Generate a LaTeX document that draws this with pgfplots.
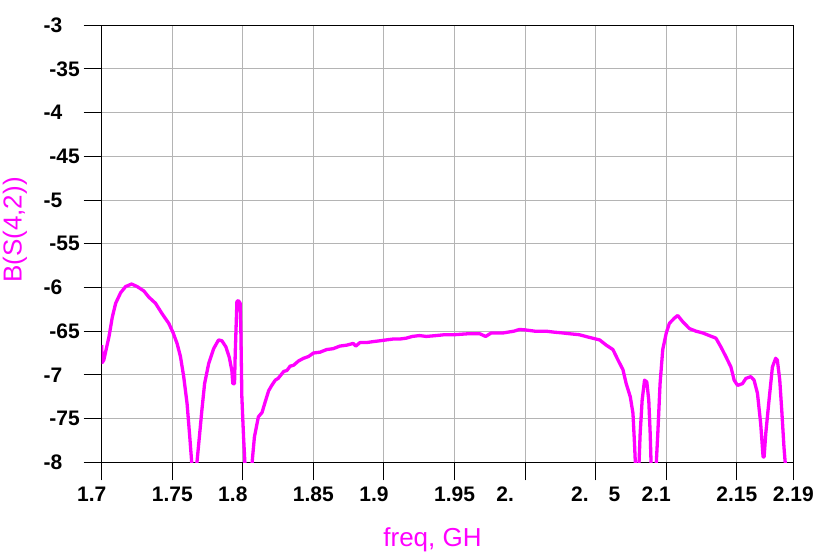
\documentclass[border=0pt]{standalone}
\usepackage{pgfplots}
\pgfplotsset{compat=1.18}
\usepackage{fontspec}
\setmainfont{Liberation Sans}
\definecolor{mag}{RGB}{255,0,255}
\definecolor{gridgray}{RGB}{180,180,180}
\newcommand\Z{\hspace{20pt}\null}
\newcommand\Y{\hspace{17.5pt}\null}
\begin{document}
\begin{tikzpicture}[x=1pt,y=1pt]
\path[use as bounding box] (0,0) rectangle (816,557);
\begin{axis}[
  at={(101.7pt,94.7pt)}, anchor=south west,
  scale only axis, width=691.6pt, height=437pt,
  xmin=1.7, xmax=2.19, ymin=-80, ymax=-30,
  xtick={1.7,1.75,1.8,1.85,1.9,1.95,2.0,2.05,2.1,2.15,2.19},
  xticklabels={1.7\Z,1.75,1.8\Z,1.85,1.9\Z,1.95,2.\Z\Z,2.\Z5,2.1\Z,2.15,2.19},
  ytick={-80,-75,-70,-65,-60,-55,-50,-45,-40,-35,-30},
  yticklabels={-8\Y,-75,-7\Y,-65,-6\Y,-55,-5\Y,-45,-4\Y,-35,-3\Y},
  grid=major, major grid style={gridgray, line width=1pt},
  tick align=outside, major tick length=18pt, tick pos=left,
  tick style={black, line width=1pt},
  axis line style={black, line width=1.3pt},
  ticklabel style={font=\fontsize{21}{21}\selectfont\bfseries, inner sep=0pt},
  xticklabel style={anchor=base, yshift=-21.4pt},
  yticklabel style={anchor=east, xshift=-3.7pt},
  ylabel={B(S(4,2))},
  ylabel style={at={(axis description cs:-0.1157,0.5316)}, anchor=base, font=\fontsize{26}{26}\selectfont, text=mag, inner sep=0pt},
  xlabel={freq, GH},
  xlabel style={at={(axis description cs:0.4783,-0.1931)}, anchor=base, font=\fontsize{26}{26}\selectfont, text=mag, inner sep=0pt},
]
\addplot[mag, line width=3.3pt, line join=round, mark=none] coordinates {
(1.7000,-66.6) (1.7003,-68.6) (1.7015,-68.3) (1.7030,-67.2) (1.7052,-65.6)
(1.7075,-63.4) (1.7099,-61.8) (1.7134,-60.6) (1.7169,-59.9) (1.7212,-59.6)
(1.7252,-59.9) (1.7299,-60.4) (1.7334,-61.1) (1.7381,-61.8) (1.7428,-63.0)
(1.7475,-64.1) (1.7504,-65.1) (1.7534,-66.4) (1.7558,-67.9) (1.7581,-70.2)
(1.7605,-73.3) (1.7624,-77.1) (1.7640,-80.5) (1.7655,-84.0) (1.7672,-80.5)
(1.7692,-77.1) (1.7710,-74.0) (1.7729,-71.0) (1.7758,-68.7) (1.7793,-67.0)
(1.7828,-66.0) (1.7852,-66.1) (1.7880,-66.8) (1.7904,-68.0) (1.7922,-69.5)
(1.7929,-71.0) (1.7941,-71.0) (1.7946,-67.6) (1.7958,-61.6) (1.7969,-61.5)
(1.7981,-61.8) (1.7986,-65.0) (1.7993,-72.5) (1.8005,-77.1) (1.8016,-80.5)
(1.8040,-85.0) (1.8063,-80.5) (1.8082,-77.1) (1.8110,-74.8) (1.8136,-74.3)
(1.8160,-73.0) (1.8183,-71.8) (1.8205,-71.2) (1.8230,-70.6) (1.8250,-70.4)
(1.8270,-70.0) (1.8290,-69.6) (1.8312,-69.5) (1.8335,-69.0) (1.8359,-68.9)
(1.8395,-68.4) (1.8430,-68.1) (1.8465,-67.9) (1.8500,-67.5) (1.8547,-67.4)
(1.8594,-67.1) (1.8640,-67.0) (1.8688,-66.7) (1.8735,-66.6) (1.8782,-66.4)
(1.8800,-66.7) (1.8830,-66.3) (1.8876,-66.3) (1.8920,-66.2) (1.8969,-66.1)
(1.9015,-66.0) (1.9063,-65.9) (1.9110,-65.9) (1.9157,-65.8) (1.9200,-65.6)
(1.9251,-65.5) (1.9300,-65.6) (1.9369,-65.5) (1.9430,-65.4) (1.9500,-65.4)
(1.9590,-65.3) (1.9680,-65.3) (1.9720,-65.6) (1.9760,-65.2) (1.9844,-65.2)
(1.9920,-65.0) (1.9960,-64.8) (2.0000,-64.85) (2.0070,-65.0) (2.0149,-65.0)
(2.0200,-65.1) (2.0266,-65.2) (2.0320,-65.3) (2.0383,-65.4) (2.0453,-65.7)
(2.0528,-66.0) (2.0575,-66.6) (2.0622,-67.1) (2.0658,-68.3) (2.0693,-69.4)
(2.0716,-71.0) (2.0745,-72.5) (2.0764,-74.4) (2.0775,-77.9) (2.0782,-80.5)
(2.0794,-83.0) (2.0806,-80.5) (2.0815,-76.7) (2.0829,-72.9) (2.0846,-70.6)
(2.0862,-70.8) (2.0876,-72.9) (2.0886,-76.7) (2.0893,-80.5) (2.0910,-84.0)
(2.0928,-80.5) (2.0940,-76.7) (2.0956,-71.0) (2.0975,-67.1) (2.1000,-65.2)
(2.1022,-64.1) (2.1058,-63.5) (2.1081,-63.2) (2.1116,-63.9) (2.1164,-64.7)
(2.1211,-65.0) (2.1258,-65.2) (2.1305,-65.5) (2.1352,-65.8) (2.1387,-66.8)
(2.1422,-67.9) (2.1458,-69.1) (2.1481,-70.6) (2.1505,-71.2) (2.1540,-71.0)
(2.1564,-70.4) (2.1599,-70.2) (2.1622,-70.6) (2.1646,-72.1) (2.1669,-75.6)
(2.1686,-79.4) (2.1693,-79.4) (2.1705,-76.7) (2.1728,-72.9) (2.1752,-69.1)
(2.1775,-68.1) (2.1787,-68.3) (2.1804,-70.6) (2.1818,-74.0) (2.1834,-78.3)
(2.1845,-80.5) (2.1870,-84.0)
};
\end{axis}
\end{tikzpicture}
\end{document}
